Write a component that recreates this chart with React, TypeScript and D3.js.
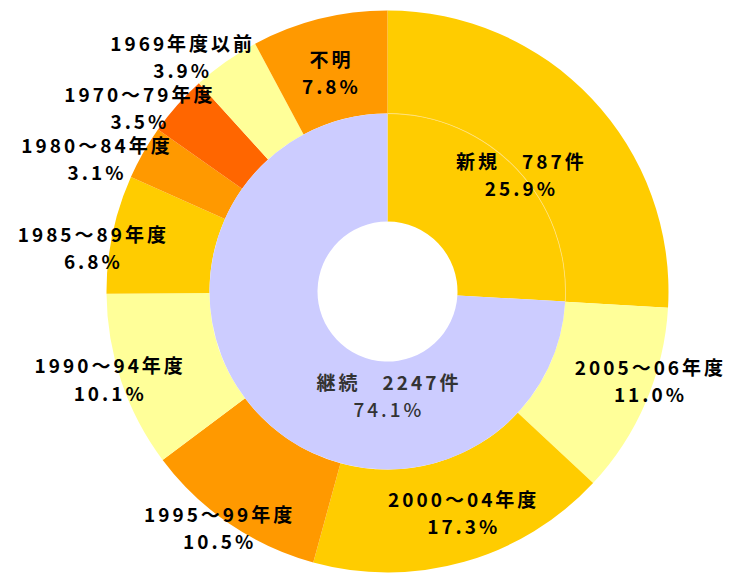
import React from "react";
import * as d3 from "d3";

// ---- data ----
const innerLabels = ["新規", "継続"];
const innerCounts = [787, 2247];
const innerPercents = [25.9, 74.1];

const outerLabels = [
  "新規",
  "2005～06年度",
  "2000～04年度",
  "1995～99年度",
  "1990～94年度",
  "1985～89年度",
  "1980～84年度",
  "1970～79年度",
  "1969年度以前",
  "不明",
];
const outerPercents = [25.9, 11.0, 17.3, 10.5, 10.1, 6.8, 3.1, 3.5, 3.9, 7.8];

// ---- styles / layout ----
const innerColors = ["#FFCC00", "#CCCCFF"];
const outerColors = [
  "#FFCC00", "#FFFF99", "#FFCC00", "#FF9900", "#FFFF99",
  "#FFCC00", "#FF9900", "#FF6600", "#FFFF99", "#FF9900",
];
// label placement: [angle nudge (deg) from slice middle, radius]
const innerLabelPlace: [number, number][] = [[1.8, 177], [-46.6, 103.5]];
const outerLabelPlace: ([number, number] | null)[] = [
  null, [-4.45, 276], [-2.85, 233], [1.5, 290], [1.35, 292],
  [-3.2, 299], [-5.1, 321], [-5.0, 310], [-6.1, 313], [-0.65, 227],
];

const W = 738, H = 573;
const CX = 387.5, CY = 291.5;
const R_HOLE = 70, R_MID = 178, R_OUT = 281;
const FONT = "'Noto Sans CJK JP', 'Noto Sans', sans-serif";
const LINE = 27.5;
const FS = 19;
const LS = 3;

function polar(angleRad: number, r: number): [number, number] {
  return [Math.sin(angleRad) * r, -Math.cos(angleRad) * r];
}

export default function App() {
  const pie = d3.pie<number>().sort(null).value((d) => d);
  const innerArcs = pie(innerPercents);
  const outerArcs = pie(outerPercents);
  const innerArc = d3.arc<d3.PieArcDatum<number>>().innerRadius(R_HOLE).outerRadius(R_MID);
  const outerArc = d3.arc<d3.PieArcDatum<number>>().innerRadius(R_MID).outerRadius(R_OUT);
  const seam = d3.arc()({
    innerRadius: R_MID - 0.4,
    outerRadius: R_MID + 0.4,
    startAngle: innerArcs[0].startAngle,
    endAngle: innerArcs[0].endAngle,
  } as any) as string;

  const deg = Math.PI / 180;

  const renderLabel = (
    key: string,
    arc: d3.PieArcDatum<number>,
    place: [number, number],
    line1: string,
    line2: string,
    color: string,
    w2: string
  ) => {
    const mid = (arc.startAngle + arc.endAngle) / 2 + place[0] * deg;
    const [x, y] = polar(mid, place[1]);
    return (
      <g key={key} transform={`translate(${x + LS / 2},${y})`} fill={color}
        style={{ fontFamily: FONT, fontSize: FS, letterSpacing: LS }}
        textAnchor="middle">
        <text y={-LINE / 2} dominantBaseline="central" fontWeight="bold">{line1}</text>
        <text y={LINE / 2} dominantBaseline="central" fontWeight={w2}>{line2}</text>
      </g>
    );
  };

  return (
    <svg width={W} height={H} style={{ position: "absolute", left: 0, top: 0, display: "block" }}>
      <rect width={W} height={H} fill="#ffffff" />
      <g transform={`translate(${CX},${CY})`}>
        {outerArcs.map((a, i) => (
          <path key={"o" + i} d={outerArc(a) as string} fill={outerColors[i]} />
        ))}
        {innerArcs.map((a, i) => (
          <path key={"i" + i} d={innerArc(a) as string} fill={innerColors[i]} />
        ))}
        <path d={seam} fill="#FFE17A" />
        {innerArcs.map((a, i) =>
          renderLabel(
            "li" + i, a, innerLabelPlace[i],
            `${innerLabels[i]}　${innerCounts[i]}件`,
            `${innerPercents[i].toFixed(1)}%`,
            i === 0 ? "#000000" : "#333333",
            i === 0 ? "bold" : "500"
          )
        )}
        {outerArcs.map((a, i) => {
          const p = outerLabelPlace[i];
          if (!p) return null;
          return renderLabel(
            "lo" + i, a, p, outerLabels[i], `${outerPercents[i].toFixed(1)}%`, "#000000", "bold"
          );
        })}
      </g>
    </svg>
  );
}
